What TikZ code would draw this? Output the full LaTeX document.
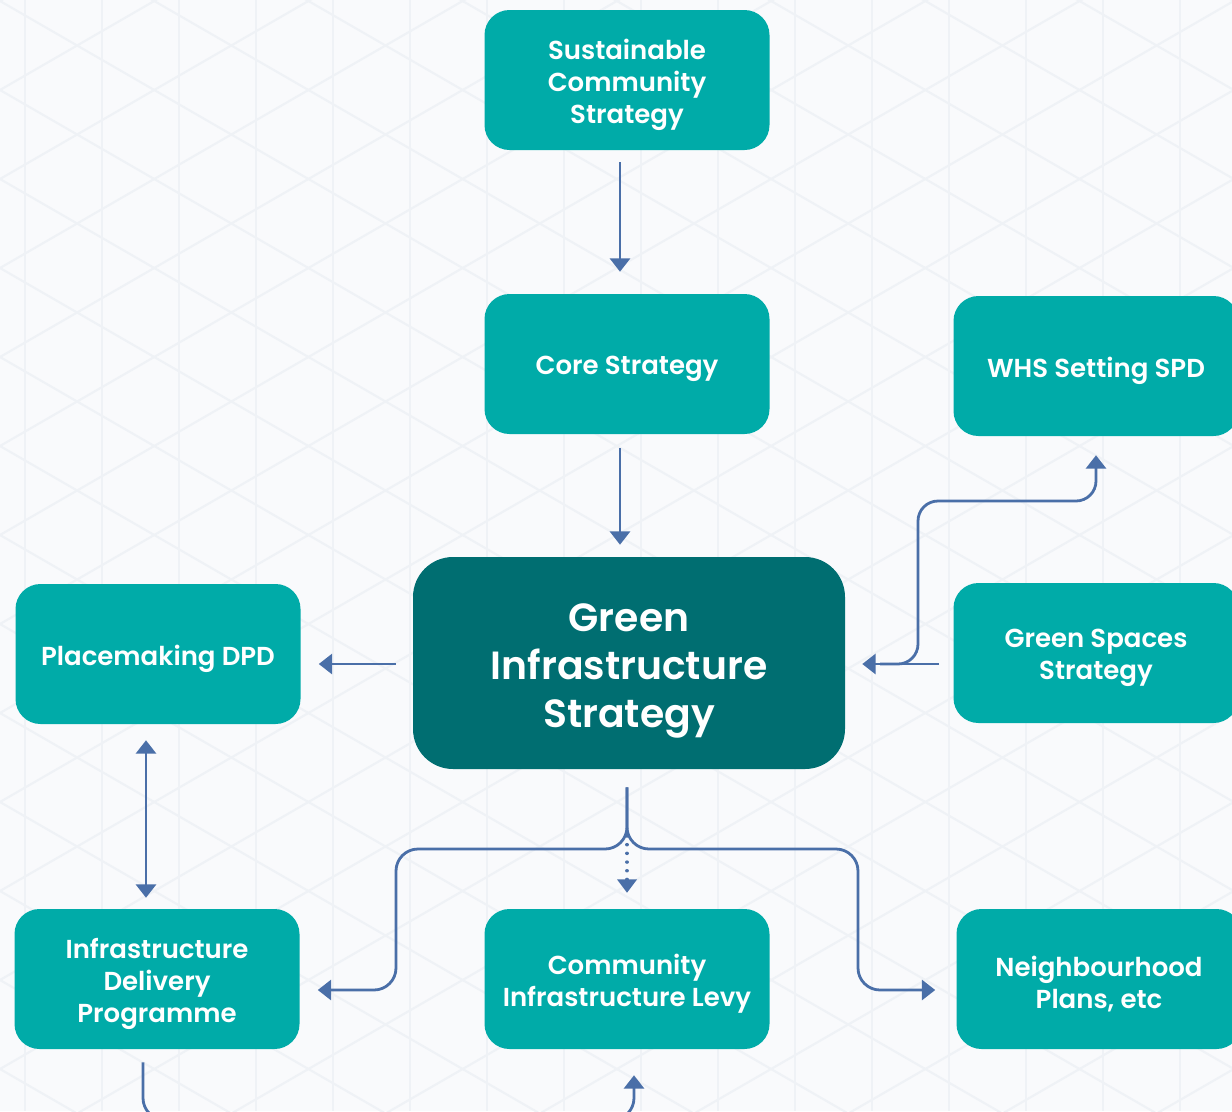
\documentclass[tikz,border=0pt]{standalone}
\usepackage{fontspec}
\setmainfont{Poppins}[BoldFont={* SemiBold}]
\usetikzlibrary{arrows.meta}
\definecolor{bgc}{HTML}{F9FAFC}
\definecolor{gridc}{HTML}{EFF2F6}
\definecolor{tealc}{HTML}{00ABA8}
\definecolor{dtealc}{HTML}{006E71}
\definecolor{arrc}{HTML}{4A6FA8}
\tikzset{
  box/.style={draw=none, fill=tealc, rounded corners=18.75pt, minimum width=213.75pt, minimum height=105pt, inner sep=0pt},
  bigbox/.style={box, fill=dtealc, rounded corners=30pt, minimum width=324pt, minimum height=159pt},
  boxtext/.style={text=white, align=center, font=\fontsize{19.5}{24}\selectfont\bfseries, inner sep=0pt},
  bigtext/.style={boxtext, font=\fontsize{29.5}{36}\selectfont\bfseries},
  conn/.style={draw=arrc, line width=2.1pt, -{Triangle[width=15pt,length=10pt]}},
  gridline/.style={draw=gridc, line width=1.6pt}
}
\begin{document}
\begin{tikzpicture}[x=0.75pt,y=-0.75pt]
\useasboundingbox (0,0) rectangle (1232,1111);
\clip (0,0) rectangle (1232,1111);
\fill[bgc] (0,0) rectangle (1232,1111);
\foreach \x in {25,102,...,1260} \draw[gridline] (\x,0) -- (\x,1111);
\foreach \c in {-800,-711,...,1950} {
  \draw[gridline] (0,\c) -- (1232,\c+711);
  \draw[gridline] (0,\c) -- (1232,\c-711);
}
% helper coordinates
\coordinate (v620) at (620,0);
\coordinate (v627) at (627,0);
\coordinate (v634) at (634,0);
\coordinate (v146) at (146,0);
\coordinate (v143) at (143,0);
\coordinate (v1096) at (1096,0);
\coordinate (h664) at (0,664);
\coordinate (h990) at (0,990);
% boxes
\node[box] (scs) at (627,80) {};
\node[box] (core) at (627,364) {};
\node[box] (whs) at (1096,366) {};
\node[bigbox] (gi) at (629,663) {};
\node[box] (pm) at (158,654) {};
\node[box] (gs) at (1096,653) {};
\node[box] (idp) at (157,979) {};
\node[box] (cil) at (627,979) {};
\node[box] (np) at (1099,979) {};
% texts
\node[boxtext] (scs-t) at ([yshift=-3.5pt]scs.center) {Sustainable\\Community\\Strategy};
\node[boxtext] (core-t) at ([yshift=-4pt]core.center) {Core Strategy};
\node[boxtext] (whs-t) at ([yshift=-3.5pt]whs.center) {WHS Setting SPD};
\node[bigtext] (gi-t) at ([yshift=-6pt]gi.center) {Green\\Infrastructure\\Strategy};
\node[boxtext] (pm-t) at ([yshift=-3.5pt]pm.center) {Placemaking DPD};
\node[boxtext] (gs-t) at ([yshift=-3.5pt]gs.center) {Green Spaces\\Strategy};
\node[boxtext] (idp-t) at ([yshift=-3.5pt]idp.center) {Infrastructure\\Delivery\\Programme};
\node[boxtext] (cil-t) at ([yshift=-3.5pt]cil.center) {Community\\Infrastructure Levy};
\node[boxtext] (np-t) at ([yshift=-3.5pt]np.center) {Neighbourhood\\Plans, etc};
% connectors
\draw[conn] ([yshift=-9pt]scs.south -| v620) -- ([yshift=16.5pt]core.north -| v620);
\draw[conn] ([yshift=-10.5pt]core.south -| v620) -- ([yshift=9pt]gi.north -| v620);
\draw[conn] ([xshift=-12.75pt]gi.west |- h664) -- ([xshift=13.5pt]pm.east |- h664);
\draw[conn, {Triangle[width=15pt,length=10pt]}-{Triangle[width=15pt,length=10pt]}] ([yshift=-12pt]pm.south -| v146) -- ([yshift=8.25pt]idp.north -| v146);
\draw[conn] ([xshift=-10.5pt]gs.west |- h664) -- ([xshift=12.75pt]gi.east |- h664);
\draw[conn, rounded corners=15pt] (880,664) -- (918,664) -- (918,501) -- (1096,501) -- ([yshift=-14.25pt]whs.south -| v1096);
\draw[conn, rounded corners=16.5pt] ([yshift=-13.5pt]gi.south -| v627) -- (627,849) -- (396,849) -- (396,990) -- ([xshift=13.5pt]idp.east |- h990);
\draw[conn, rounded corners=16.5pt] ([yshift=-13.5pt]gi.south -| v627) -- (627,849) -- (858,849) -- (858,990) -- ([xshift=-15.75pt]np.west |- h990);
\draw[conn, line width=2.6pt, line cap=round, dash pattern=on 0.01pt off 6.5pt, -{Triangle[width=15pt,length=10pt,line width=0pt]}] (627,836) -- ([yshift=12pt]cil.north -| v627);
\draw[conn, rounded corners=16.5pt] ([yshift=-9.75pt]idp.south -| v143) -- (143,1120) -- (634,1120) -- ([yshift=-19.5pt]cil.south -| v634);
\end{tikzpicture}
\end{document}
